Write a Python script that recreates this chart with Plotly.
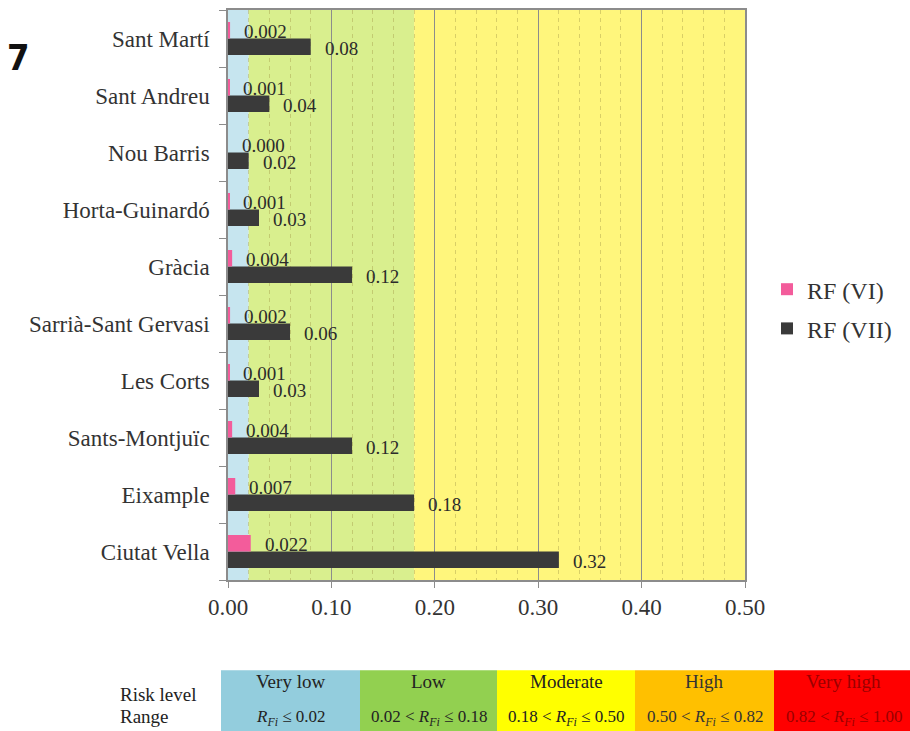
import plotly.graph_objects as go

# Districts, listed bottom to top as they appear on the category axis
districts = [
    "Ciutat Vella", "Eixample", "Sants-Montjuïc", "Les Corts",
    "Sarrià-Sant Gervasi", "Gràcia", "Horta-Guinardó", "Nou Barris",
    "Sant Andreu", "Sant Martí",
]
rf_vi = [0.022, 0.007, 0.004, 0.001, 0.002, 0.004, 0.001, 0.000, 0.001, 0.002]
rf_vii = [0.32, 0.18, 0.12, 0.03, 0.06, 0.12, 0.03, 0.02, 0.04, 0.08]

# Risk classes shown behind the bars and in the key underneath
risk_levels = ["Very low", "Low", "Moderate", "High", "Very high"]
risk_bounds = [0.0, 0.02, 0.18, 0.50, 0.82, 1.00]
risk_ranges = [
    "<i>R</i><sub><i>Fi</i></sub> ≤ 0.02",
    "0.02 < <i>R</i><sub><i>Fi</i></sub> ≤ 0.18",
    "0.18 < <i>R</i><sub><i>Fi</i></sub> ≤ 0.50",
    "0.50 < <i>R</i><sub><i>Fi</i></sub> ≤ 0.82",
    "0.82 < <i>R</i><sub><i>Fi</i></sub> ≤ 1.00",
]
band_colors = ["#c6e5ef", "#d9ef8e", "#fff67c"]           # shading inside the plot
key_colors = ["#93cddd", "#92d050", "#ffff00", "#ffc000", "#ff0000"]
key_text_colors = ["#222222", "#222222", "#222222", "#333333", "#9a0000"]

SERIF = "Liberation Serif, Times New Roman, serif"
W, H = 910, 731
M_L, M_R, M_T, M_B = 228, 165, 8, 151
PW, PH = W - M_L - M_R, H - M_T - M_B


def px_x(x):
    return (x - M_L) / PW


def px_y(y):
    return (H - M_B - y) / PH


fig = go.Figure()

# RF (VII) first so that it sits below RF (VI) inside each group
fig.add_trace(go.Bar(
    y=districts, x=rf_vii, orientation="h", name="RF (VII)",
    marker=dict(color="#3a3a3a", line=dict(width=0)), legendrank=2,
    legendgroup="vii",
))
fig.add_trace(go.Bar(
    y=districts, x=rf_vi, orientation="h", name="RF (VI)",
    marker=dict(color="#f35c9b", line=dict(width=0)), legendrank=1,
    legendgroup="vi",
))

# Risk-level shading behind the bars
for i, col in enumerate(band_colors):
    fig.add_shape(type="rect", xref="x", yref="paper",
                  x0=risk_bounds[i], x1=min(risk_bounds[i + 1], 0.5), y0=0, y1=1,
                  fillcolor=col, line=dict(width=0), layer="below")

annotations = []
# Value labels next to each bar
for d, v6, v7 in zip(districts, rf_vi, rf_vii):
    annotations.append(dict(x=v6, y=d, xref="x", yref="y", text=f"{v6:.3f}",
                            showarrow=False, xanchor="left", xshift=12, yshift=7,
                            font=dict(family=SERIF, size=19, color="#2b2b2b")))
    annotations.append(dict(x=v7, y=d, xref="x", yref="y", text=f"{v7:.2f}",
                            showarrow=False, xanchor="left", xshift=12, yshift=-10,
                            font=dict(family=SERIF, size=19, color="#2b2b2b")))

# Panel number
annotations.append(dict(x=px_x(18), y=px_y(56), xref="paper", yref="paper",
                        text="<b>7</b>", showarrow=False, xanchor="center", yanchor="middle",
                        font=dict(family="Liberation Sans Narrow, DejaVu Sans Condensed, sans-serif",
                                  size=36, color="#111111")))

# Risk key table underneath the chart
cell_edges = [221, 360, 497, 635, 774, 913]
key_top, key_bottom = 670.5, 740
for i, lvl in enumerate(risk_levels):
    fig.add_shape(type="rect", xref="paper", yref="paper",
                  x0=px_x(cell_edges[i]), x1=px_x(cell_edges[i + 1]),
                  y0=px_y(key_bottom), y1=px_y(key_top),
                  fillcolor=key_colors[i], line=dict(width=0), layer="above")
    cx = px_x((cell_edges[i] + cell_edges[i + 1]) / 2)
    annotations.append(dict(x=cx, y=px_y(682), xref="paper", yref="paper", text=lvl,
                            showarrow=False, xanchor="center", yanchor="middle",
                            font=dict(family=SERIF, size=19, color=key_text_colors[i])))
    annotations.append(dict(x=cx, y=px_y(718), xref="paper", yref="paper", text=risk_ranges[i],
                            showarrow=False, xanchor="center", yanchor="middle",
                            font=dict(family=SERIF, size=17, color=key_text_colors[i])))
annotations.append(dict(x=px_x(118), y=px_y(695), xref="paper", yref="paper", text="Risk level",
                        showarrow=False, xanchor="left", yanchor="middle",
                        font=dict(family=SERIF, size=19, color="#222222")))
annotations.append(dict(x=px_x(118), y=px_y(717), xref="paper", yref="paper", text="Range",
                        showarrow=False, xanchor="left", yanchor="middle",
                        font=dict(family=SERIF, size=19, color="#222222")))

fig.update_layout(
    width=W, height=H,
    margin=dict(l=M_L, r=M_R, t=M_T, b=M_B),
    paper_bgcolor="white", plot_bgcolor="white",
    barmode="group", bargap=0.42, bargroupgap=0,
    font=dict(family=SERIF, size=23, color="#333333"),
    showlegend=True,
    legend=dict(x=px_x(767), y=px_y(266), xanchor="left", yanchor="top",
                bgcolor="rgba(0,0,0,0)", font=dict(family=SERIF, size=24, color="#333333"),
                traceorder="grouped", tracegroupgap=5, itemsizing="constant"),
    annotations=annotations,
)

fig.update_xaxes(
    range=[0, 0.5], dtick=0.1, tick0=0, tickformat=".2f",
    showgrid=True, gridcolor="#8c8c8c", gridwidth=1,
    minor=dict(dtick=0.02, tick0=0, showgrid=True, griddash="4px,4px",
               gridcolor="rgba(160,150,70,0.4)", gridwidth=1),
    ticks="outside", ticklen=6, tickcolor="#8c8c8c",
    showline=True, linecolor="#8c8c8c", linewidth=1.5, mirror=True,
    zeroline=False, tickfont=dict(family=SERIF, size=23, color="#333333"),
)
fig.update_yaxes(
    categoryorder="array", categoryarray=districts,
    showgrid=False, ticks="outside", tickson="boundaries", ticklen=7,
    tickcolor="#8c8c8c", showline=True, linecolor="#8c8c8c", linewidth=1.5,
    mirror=True, zeroline=False, ticklabelstandoff=12,
    tickfont=dict(family=SERIF, size=23, color="#333333"),
)

fig.write_html("out.html")
